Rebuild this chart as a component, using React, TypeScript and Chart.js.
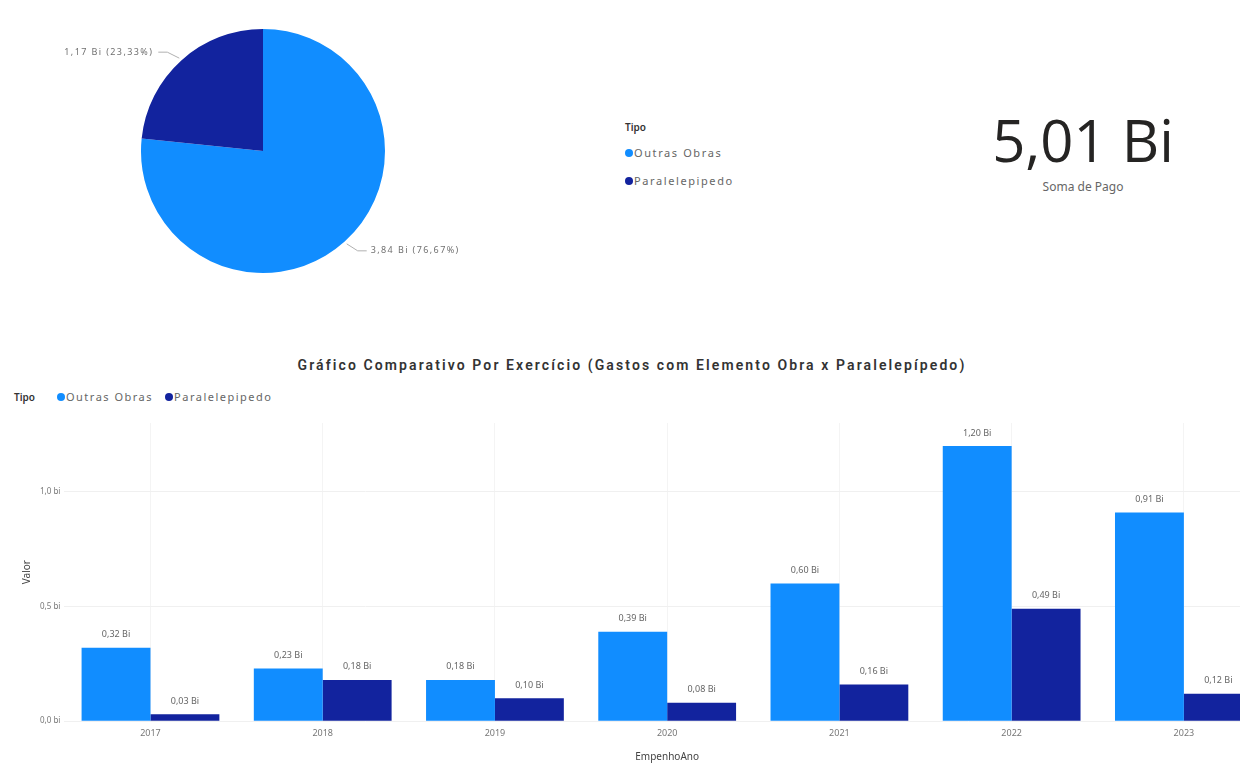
import React, { useEffect, useRef } from "react";
import { Chart, registerables } from "chart.js";
Chart.register(...registerables);

const years = ["2017", "2018", "2019", "2020", "2021", "2022", "2023"];
const outrasObras = [0.32, 0.23, 0.18, 0.39, 0.6, 1.2, 0.91];
const paralelepipedo = [0.03, 0.18, 0.1, 0.08, 0.16, 0.49, 0.12];
const seriesNames = ["Outras Obras", "Paralelepipedo"];
const seriesColors = ["#118DFF", "#12239E"];
const pieValues = [3.84, 1.17];
const piePercents = [76.67, 23.33];
const yTickValues = [0, 0.5, 1.0];
const yTickLabels = ["0,0 bi", "0,5 bi", "1,0 bi"];
const legendTitle = "Tipo";
const totalLabel = "5,01 Bi";
const totalCaption = "Soma de Pago";
const barTitle = "Gráfico Comparativo Por Exercício (Gastos com Elemento Obra x Paralelepípedo)";
const xAxisTitle = "EmpenhoAno";
const yAxisTitle = "Valor";

const fmt = (v: number) => v.toFixed(2).replace(".", ",");
const FONT = "'Noto Sans', 'Open Sans', sans-serif";

const pieLabelPlugin = {
  id: "pieLabels",
  afterDatasetsDraw(chart: any) {
    const ctx = chart.ctx;
    const meta = chart.getDatasetMeta(0);
    const ds = chart.data.datasets[0];
    meta.data.forEach((arc: any, i: number) => {
      const { x, y, startAngle, endAngle, outerRadius } = arc.getProps(
        ["x", "y", "startAngle", "endAngle", "outerRadius"],
        true
      );
      const mid = (startAngle + endAngle) / 2;
      const c = Math.cos(mid);
      const s = Math.sin(mid);
      const right = c >= 0;
      const p1 = { x: x + c * (outerRadius + 3), y: y + s * (outerRadius + 3) };
      const p2 = { x: p1.x + (right ? 11 : -12), y: p1.y + (s >= 0 ? 7 : -6) };
      const p3 = { x: p2.x + (right ? 9 : -9), y: p2.y };
      ctx.save();
      ctx.strokeStyle = "#b0b0b0";
      ctx.lineWidth = 1;
      ctx.beginPath();
      ctx.moveTo(p1.x, p1.y);
      ctx.lineTo(p2.x, p2.y);
      ctx.lineTo(p3.x, p3.y);
      ctx.stroke();
      ctx.fillStyle = "#707070";
      ctx.font = `9px ${FONT}`;
      (ctx as any).letterSpacing = "1.4px";
      ctx.textBaseline = "middle";
      ctx.textAlign = right ? "left" : "right";
      const txt = `${fmt(ds.data[i])} Bi (${fmt(piePercents[i])}%)`;
      ctx.fillText(txt, p3.x + (right ? 4 : -5), p3.y);
      ctx.restore();
    });
  },
};

const barLabelPlugin = {
  id: "barLabels",
  afterDatasetsDraw(chart: any) {
    const ctx = chart.ctx;
    chart.data.datasets.forEach((ds: any, di: number) => {
      const meta = chart.getDatasetMeta(di);
      meta.data.forEach((bar: any, i: number) => {
        ctx.save();
        ctx.fillStyle = "#666666";
        ctx.font = `9px ${FONT}`;
        ctx.textAlign = "center";
        ctx.textBaseline = "middle";
        ctx.fillText(`${fmt(ds.data[i])} Bi`, bar.x, bar.y - 13);
        ctx.restore();
      });
    });
  },
};

function PieChart() {
  const ref = useRef<HTMLCanvasElement>(null);
  useEffect(() => {
    const chart = new Chart(ref.current!, {
      type: "pie",
      data: {
        labels: seriesNames,
        datasets: [
          {
            data: pieValues,
            backgroundColor: seriesColors,
            borderWidth: 0,
          },
        ],
      },
      options: {
        animation: false,
        responsive: false,
        maintainAspectRatio: false,
        layout: { padding: { left: 101, right: 115, top: 9, bottom: 17 } },
        plugins: { legend: { display: false }, tooltip: { enabled: false } },
      },
      plugins: [pieLabelPlugin],
    });
    return () => chart.destroy();
  }, []);
  return (
    <canvas
      ref={ref}
      width={460}
      height={270}
      style={{ position: "absolute", left: 40, top: 20, width: 460, height: 270 }}
    />
  );
}

function BarChart() {
  const ref = useRef<HTMLCanvasElement>(null);
  useEffect(() => {
    const chart = new Chart(ref.current!, {
      type: "bar",
      data: {
        labels: years,
        datasets: [
          {
            label: seriesNames[0],
            data: outrasObras,
            backgroundColor: seriesColors[0],
            categoryPercentage: 0.8,
            barPercentage: 1.0,
          },
          {
            label: seriesNames[1],
            data: paralelepipedo,
            backgroundColor: seriesColors[1],
            categoryPercentage: 0.8,
            barPercentage: 1.0,
          },
        ],
      },
      options: {
        animation: false,
        responsive: false,
        maintainAspectRatio: false,
        layout: { padding: { left: 18, right: 2, top: 16, bottom: 0 } },
        plugins: { legend: { display: false }, tooltip: { enabled: false } },
        scales: {
          x: {
            grid: { display: true, offset: false, color: "#f4f4f4", drawTicks: false },
            border: { display: false },
            ticks: { color: "#777777", font: { family: FONT, size: 9 }, padding: 7 },
            title: {
              display: true,
              text: xAxisTitle,
              color: "#444444",
              font: { family: FONT, size: 10 },
              padding: { top: 5, bottom: 0 },
            },
          },
          y: {
            min: 0,
            max: 1.3,
            afterBuildTicks: (axis: any) => {
              axis.ticks = yTickValues.map((v) => ({ value: v }));
            },
            grid: { color: "#f0f0f0", drawTicks: false },
            border: { display: false },
            ticks: {
              color: "#777777",
              font: { family: FONT, size: 8 },
              padding: 4,
              callback: (v: any) => {
                const idx = yTickValues.indexOf(Number(v));
                return idx >= 0 ? yTickLabels[idx] : "";
              },
            },
            title: {
              display: true,
              text: yAxisTitle,
              color: "#444444",
              font: { family: FONT, size: 10 },
              padding: { top: 3, bottom: 3 },
            },
          },
        },
      },
      plugins: [barLabelPlugin],
    });
    return () => chart.destroy();
  }, []);
  return (
    <canvas
      ref={ref}
      width={1272}
      height={356}
      style={{ position: "absolute", left: 0, top: 407, width: 1272, height: 356 }}
    />
  );
}

function Dot({ color }: { color: string }) {
  return (
    <span
      style={{
        display: "inline-block",
        width: 8,
        height: 8,
        borderRadius: 4,
        background: color,
        marginRight: 1,
        verticalAlign: "middle",
        position: "relative",
        top: -1,
      }}
    />
  );
}

export default function App() {
  return (
    <div
      style={{
        position: "absolute",
        left: 0,
        top: 0,
        width: 1240,
        height: 763,
        overflow: "hidden",
        background: "#ffffff",
        fontFamily: FONT,
      }}
    >
      <PieChart />
      <div style={{ position: "absolute", left: 625, top: 120, fontSize: 10, color: "#333" }}>
        <div style={{ fontWeight: 600, height: 25 }}>{legendTitle}</div>
        {seriesNames.map((n, i) => (
          <div key={n} style={{ height: 28, color: "#666", fontSize: 11, letterSpacing: 1.6 }}>
            <Dot color={seriesColors[i]} />
            {n}
          </div>
        ))}
      </div>
      <div
        style={{
          position: "absolute",
          left: 933,
          width: 300,
          top: 100,
          textAlign: "center",
          fontSize: 58,
          color: "#252423",
          fontFamily: "'Open Sans', sans-serif",
          lineHeight: "80px",
        }}
      >
        {totalLabel}
      </div>
      <div
        style={{
          position: "absolute",
          left: 933,
          width: 300,
          top: 178,
          textAlign: "center",
          fontSize: 12,
          color: "#666",
        }}
      >
        {totalCaption}
      </div>
      <div
        style={{
          position: "absolute",
          left: 0,
          width: 1264,
          top: 357,
          textAlign: "center",
          fontSize: 14,
          fontWeight: 600,
          color: "#333",
          fontFamily: "'Roboto', sans-serif",
          letterSpacing: 2.1,
          whiteSpace: "nowrap",
        }}
      >
        {barTitle}
      </div>
      <div
        style={{
          position: "absolute",
          left: 14,
          top: 389,
          fontSize: 11,
          color: "#666",
          whiteSpace: "nowrap",
        }}
      >
        <span style={{ fontWeight: 600, color: "#333", marginRight: 22, fontSize: 10 }}>
          {legendTitle}
        </span>
        {seriesNames.map((n, i) => (
          <span key={n} style={{ marginRight: 12, letterSpacing: 1.5 }}>
            <Dot color={seriesColors[i]} />
            {n}
          </span>
        ))}
      </div>
      <BarChart />
    </div>
  );
}
